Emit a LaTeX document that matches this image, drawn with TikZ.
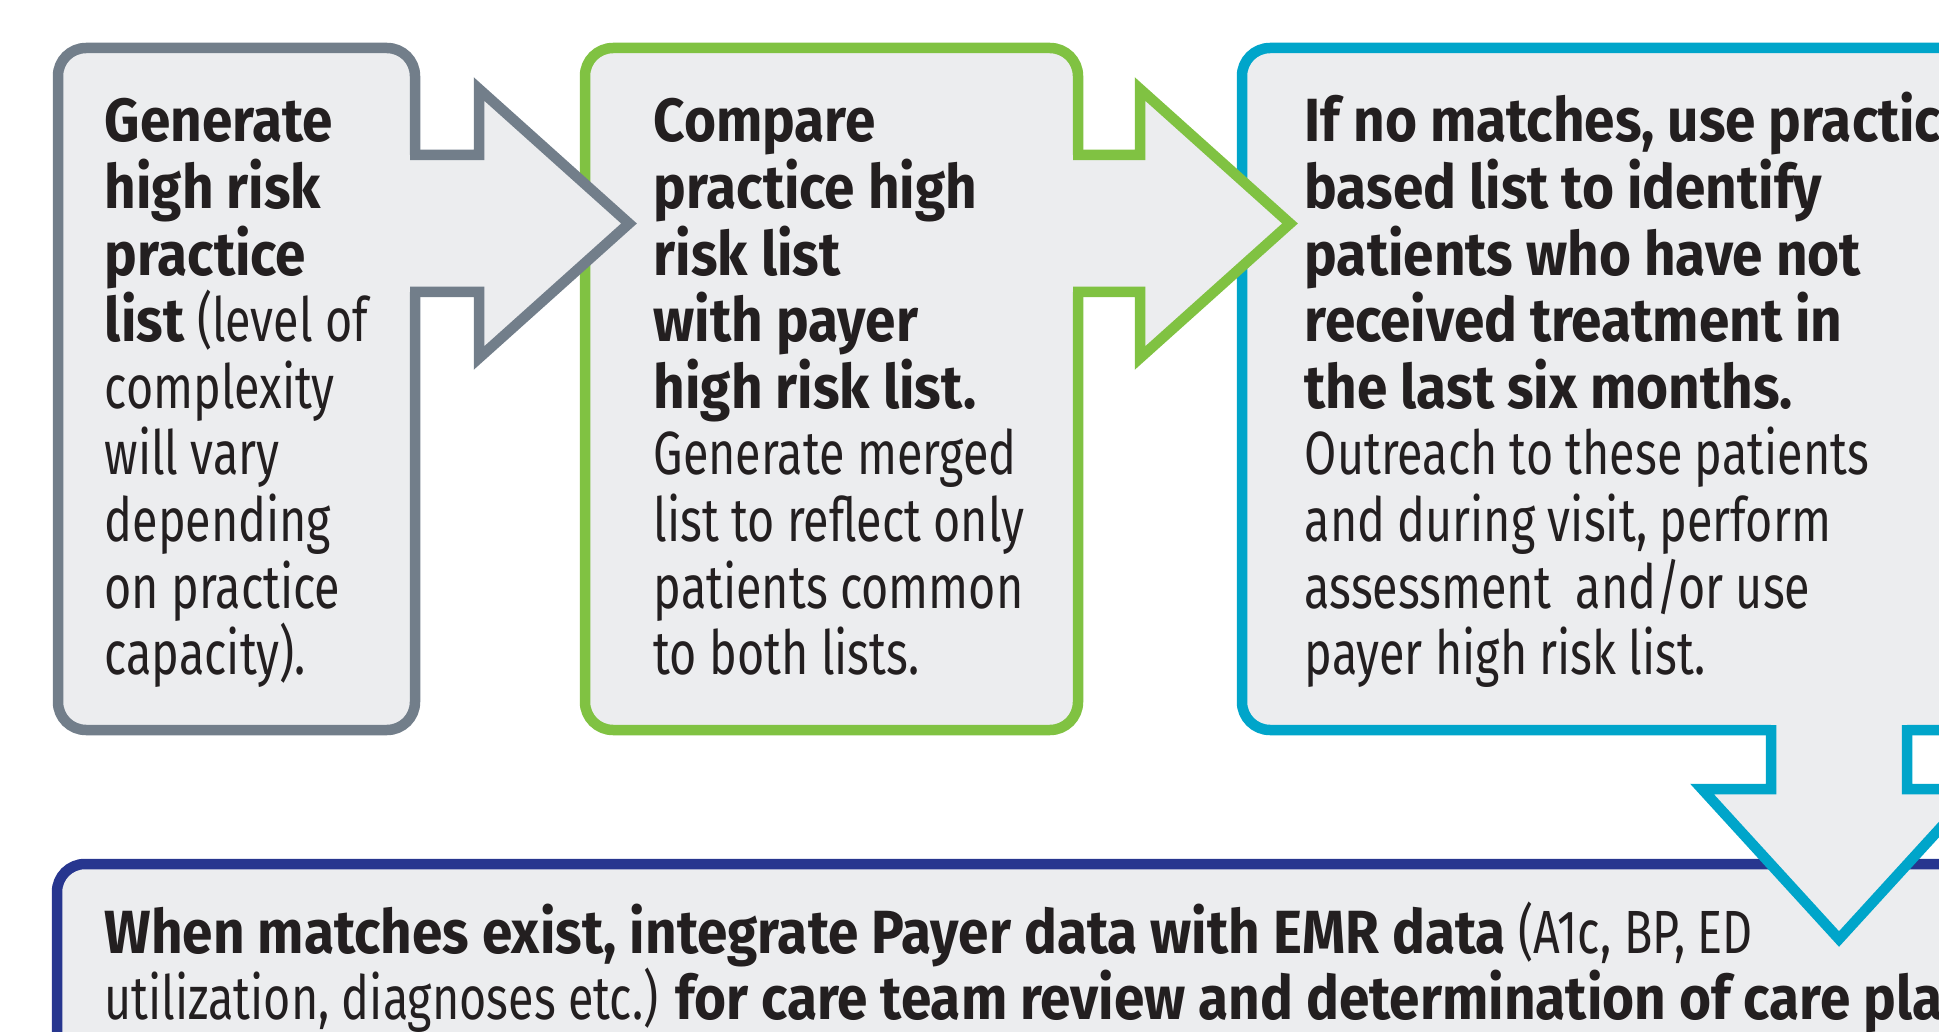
\documentclass[tikz,border=0pt]{standalone}
\usepackage{fontspec}
\setmainfont{Fira Sans}[FakeStretch=0.765, BoldFont={Fira Sans Bold}, BoldFeatures={FakeStretch=0.90}]
\definecolor{panelfill}{HTML}{ECEDEF}
\definecolor{slateline}{HTML}{727E8A}
\definecolor{greenline}{HTML}{80C242}
\definecolor{blueline}{HTML}{00A5CA}
\definecolor{navyline}{HTML}{27368F}
\definecolor{inktext}{HTML}{231F20}
% left-aligned lines whose baseline is that of the first line
\newcommand\linestack[1]{\vtop{\baselineskip=66.6pt \lineskip=0pt \lineskiplimit=-1000pt
  \halign{##\hfil\cr#1\crcr}}}
\begin{document}
\begin{tikzpicture}[x=1pt,y=-1pt,
  panel/.style={draw, fill=panelfill, line width=10.5pt, rounded corners=28pt,
    inner sep=0pt, outer sep=0pt, rectangle},
  blockarrow/.style={line width=10.5pt, line join=miter, miter limit=20},
  bodytext/.style={anchor=base west, inner sep=0pt, text=inktext,
    font=\fontsize{61}{66.6}\selectfont}
]
\useasboundingbox (0,0) rectangle (1939,1032);
\clip (0,0) rectangle (1939,1032);

% step panels
\node[panel, draw=slateline, minimum width=357pt, minimum height=682pt] (p1) at (236.5,389) {};
\node[panel, draw=greenline, minimum width=493pt, minimum height=682pt] (p2) at (831.5,389) {};
\node[panel, draw=blueline, minimum width=768pt, minimum height=682pt] (p3) at (1626,389) {};
\node[panel, draw=navyline, minimum width=1953pt, minimum height=286pt] (p4) at (1033.5,1007) {};

% block arrow from panel 1 to panel 2
\fill[panelfill] (400,155) -- (479,155) -- (479,89) -- (629,223.5) -- (479,358) -- (479,292) -- (400,292) -- cycle;
\draw[blockarrow, slateline] (410,155) -- (479,155) -- (479,89) -- (629,223.5) -- (479,358) -- (479,292) -- (410,292);

% block arrow from panel 2 to panel 3
\fill[panelfill] (1063,155) -- (1140,155) -- (1140,89) -- (1290,223.5) -- (1140,358) -- (1140,292) -- (1063,292) -- cycle;
\draw[blockarrow, greenline] (1073,155) -- (1140,155) -- (1140,89) -- (1290,223.5) -- (1140,358) -- (1140,292) -- (1073,292);

% block arrow from panel 3 down to panel 4
\fill[panelfill] (1771,715) -- (1771,789) -- (1702,789) -- (1839,939) -- (1976,789) -- (1907,789) -- (1907,715) -- cycle;
\draw[blockarrow, blueline] (1771,725) -- (1771,789) -- (1702,789) -- (1839,939) -- (1976,789) -- (1907,789) -- (1907,725);

% panel texts
\node[bodytext] (t1) at (104.5,142) {\linestack{\textbf{Generate}\cr \textbf{high risk}\cr \textbf{practice}\cr \textbf{list} (level of\cr complexity\cr will vary\cr depending\cr on practice\cr capacity).}};
\node[bodytext] (t2) at (653.5,142) {\linestack{\textbf{Compare}\cr \textbf{practice high}\cr \textbf{risk list}\cr \textbf{with payer}\cr \textbf{high risk list.}\cr Generate merged\cr list to reflect only\cr patients common\cr to both lists.}};
\node[bodytext] (t3) at (1304.5,142) {\linestack{\textbf{If no matches, use practice}\cr \textbf{based list to identify}\cr \textbf{patients who have not}\cr \textbf{received treatment in}\cr \textbf{the last six months.}\cr Outreach to these patients\cr and during visit, perform\cr assessment\ \ and/or use\cr payer high risk list.}};
\node[bodytext] (t4) at (104.5,953) {\linestack{\textbf{When matches exist, integrate Payer data with EMR data} (A1c, BP, ED\cr utilization, diagnoses etc.) \textbf{for care team review and determination of care plan}}};
\end{tikzpicture}
\end{document}
